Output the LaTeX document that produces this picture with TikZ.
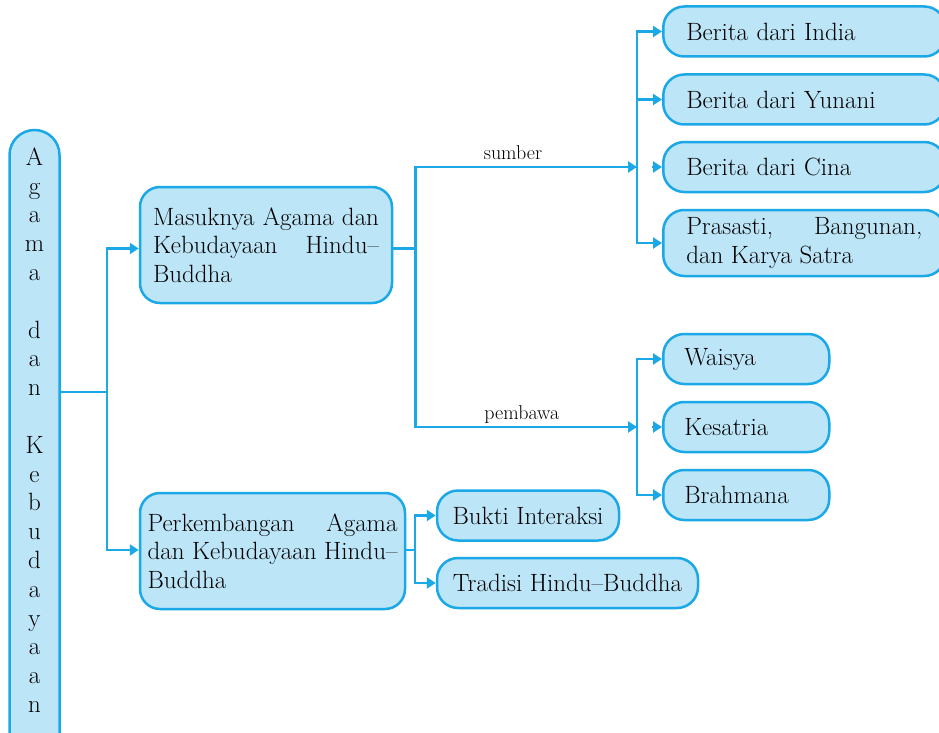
\documentclass[tikz,border=0pt]{standalone}
\usetikzlibrary{arrows.meta}
\definecolor{boxline}{HTML}{1BA8E6}
\definecolor{boxfill}{HTML}{BDE5F8}
\begin{document}
\begin{tikzpicture}[x=1pt, y=-1pt,
    conn_line/.style={draw=boxline, line width=2.5pt},
    arrow_line/.style={conn_line, -{Triangle[length=9pt,width=11pt]}},
    topic_node/.style={draw=boxline, fill=boxfill, line width=2.5pt, rounded corners=20pt, inner ysep=0pt, font=\fontsize{25}{28.5}\selectfont},
    leaf_node/.style={topic_node, rounded corners=21pt, minimum height=50pt},
    wide_node/.style={anchor=west, text width=236pt, inner xsep=23pt, align=left},
    narrow_node/.style={anchor=west, text width=124pt, inner xsep=21pt, align=left},
    edge_label/.style={above=6pt, inner sep=0pt, text depth=0pt, font=\fontsize{20}{22}\selectfont}]
    \useasboundingbox (0,0) rectangle (939,733);
    \node[topic_node, rounded corners=25pt, minimum width=50pt, minimum height=640pt, inner xsep=0pt, align=center, font=\fontsize{25}{28.8}\selectfont] (agama) at (34.5,450) {A\\g\\a\\m\\a\\\mbox{}\\d\\a\\n\\\mbox{}\\K\\e\\b\\u\\d\\a\\y\\a\\a\\n\\[11pt]\mbox{}};
    \node[topic_node, text width=226pt, align=justify, minimum height=116pt, inner xsep=13pt] (mas) at (266,245) {Masuknya Agama dan\linebreak Kebudayaan Hindu--\linebreak Buddha};
    \node[topic_node, text width=250pt, align=justify, minimum height=116pt, inner xsep=7.5pt] (perk) at (272.5,551) {Perkembangan Agama\linebreak dan Kebudayaan Hindu--\linebreak Buddha};
    \node[leaf_node, wide_node] (india) at (662,31.5) {Berita dari India};
    \node[leaf_node, wide_node] (yunani) at (662,99.5) {Berita dari Yunani};
    \node[leaf_node, wide_node] (cina) at (662,167) {Berita dari Cina};
    \node[leaf_node, wide_node, align=justify, minimum height=66pt] (prasasti) at (662,243) {Prasasti, Bangunan,\linebreak dan Karya Satra};
    \node[leaf_node, narrow_node] (waisya) at (662,359) {Waisya};
    \node[leaf_node, narrow_node] (kesatria) at (662,427) {Kesatria};
    \node[leaf_node, narrow_node] (brahmana) at (662,495) {Brahmana};
    \node[leaf_node, minimum width=182pt, align=center] (bukti) at (528,515.5) {Bukti Interaksi};
    \node[leaf_node, minimum width=261pt, align=center] (tradisi) at (567.5,583) {Tradisi Hindu--Buddha};
    \coordinate (c1) at (107,392);
    \coordinate (c2) at (415.5,248.5);
    \coordinate (c3) at (415,550);
    \coordinate (sb) at (637,167);
    \coordinate (pb) at (637,427);
    \draw[conn_line] (agama.east |- c1) -- (c1);
    \draw[arrow_line] (c1) |- (mas.west |- c2);
    \draw[arrow_line] (c1) |- (perk.west |- c3);
    \draw[conn_line] (mas.east |- c2) -- (c2);
    \draw[arrow_line] (c2) |- node[edge_label, pos=.72] {sumber} (sb);
    \draw[arrow_line] (c2) |- node[edge_label, pos=.74] {pembawa} (pb);
    \draw[arrow_line] (sb) |- (india.west);
    \draw[arrow_line] (sb) |- (yunani.west);
    \draw[arrow_line, shorten <=15pt] (sb) -- (cina.west);
    \draw[arrow_line] (sb) |- (prasasti.west);
    \draw[arrow_line] (pb) |- (waisya.west);
    \draw[arrow_line, shorten <=15pt] (pb) -- (kesatria.west);
    \draw[arrow_line] (pb) |- (brahmana.west);
    \draw[conn_line] (perk.east |- c3) -- (c3);
    \draw[arrow_line] (c3) |- (bukti.west);
    \draw[arrow_line] (c3) |- (tradisi.west);
\end{tikzpicture}
\end{document}
